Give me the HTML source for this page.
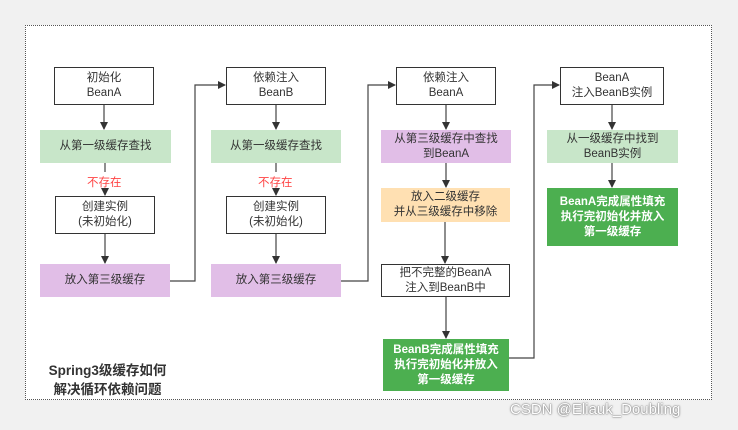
<!DOCTYPE html>
<html><head><meta charset="utf-8"><style>
body{margin:0;width:738px;height:430px;background:#f1f1f1;position:relative;overflow:hidden;font-family:"Liberation Sans","Noto Sans CJK SC",sans-serif;}
.panel{position:absolute;left:25px;top:25px;width:687px;height:375px;background:#fff;border:1px dotted #555;box-sizing:border-box;}
.b{position:absolute;box-sizing:border-box;display:flex;align-items:center;justify-content:center;text-align:center;font-size:11.5px;line-height:15px;color:#333;}
.w{background:#fff;border:1.3px solid #333;}
.g{background:#c8e6c9;}
.p{background:#e1bee7;}
.o{background:#ffe0b2;}
.d{background:#4caf50;color:#fff;font-weight:bold;}
.red{position:absolute;color:#f44;font-size:11.5px;}
svg{position:absolute;left:0;top:0;}
</style></head><body>
<div class="panel"></div>
<svg width="738" height="430">
<defs><marker id="a" markerWidth="8" markerHeight="8" refX="7" refY="4" orient="auto" markerUnits="userSpaceOnUse"><path d="M0,0L8,4L0,8z" fill="#333"/></marker></defs>
<g stroke="#444" stroke-width="1.2" fill="none">
<line x1="104" y1="104" x2="104" y2="129" marker-end="url(#a)"/>
<line x1="105" y1="163" x2="105" y2="172"/>
<line x1="105" y1="189" x2="105" y2="195" marker-end="url(#a)"/>
<line x1="105" y1="233" x2="105" y2="263" marker-end="url(#a)"/>
<polyline points="170,281 195,281 195,85 225,85" marker-end="url(#a)"/>
<line x1="276" y1="104" x2="276" y2="129" marker-end="url(#a)"/>
<line x1="276" y1="163" x2="276" y2="172"/>
<line x1="276" y1="189" x2="276" y2="195" marker-end="url(#a)"/>
<line x1="276" y1="233" x2="276" y2="263" marker-end="url(#a)"/>
<polyline points="341,281 368,281 368,85 395,85" marker-end="url(#a)"/>
<line x1="446" y1="104" x2="446" y2="129" marker-end="url(#a)"/>
<line x1="446" y1="163" x2="446" y2="187" marker-end="url(#a)"/>
<line x1="445" y1="222" x2="445" y2="263" marker-end="url(#a)"/>
<line x1="446" y1="297" x2="446" y2="338" marker-end="url(#a)"/>
<polyline points="508,358 534,358 534,85 559,85" marker-end="url(#a)"/>
<line x1="612" y1="104" x2="612" y2="129" marker-end="url(#a)"/>
<line x1="612" y1="163" x2="612" y2="187" marker-end="url(#a)"/>
</g></svg>
<div class="b w" style="left:54px;top:67px;width:100px;height:38px">初始化<br>BeanA</div>
<div class="b g" style="left:40px;top:130px;width:131px;height:33px">从第一级缓存查找</div>
<div class="red" style="left:87px;top:174px">不存在</div>
<div class="b w" style="left:55px;top:196px;width:100px;height:38px">创建实例<br>(未初始化)</div>
<div class="b p" style="left:40px;top:264px;width:130px;height:33px">放入第三级缓存</div>
<div class="b w" style="left:226px;top:67px;width:100px;height:38px">依赖注入<br>BeanB</div>
<div class="b g" style="left:211px;top:130px;width:130px;height:33px">从第一级缓存查找</div>
<div class="red" style="left:258px;top:174px">不存在</div>
<div class="b w" style="left:226px;top:196px;width:100px;height:38px">创建实例<br>(未初始化)</div>
<div class="b p" style="left:211px;top:264px;width:130px;height:33px">放入第三级缓存</div>
<div class="b w" style="left:396px;top:67px;width:100px;height:38px">依赖注入<br>BeanA</div>
<div class="b p" style="left:381px;top:130px;width:130px;height:33px">从第三级缓存中查找<br>到BeanA</div>
<div class="b o" style="left:381px;top:188px;width:129px;height:34px">放入二级缓存<br>并从三级缓存中移除</div>
<div class="b w" style="left:381px;top:264px;width:129px;height:33px">把不完整的BeanA<br>注入到BeanB中</div>
<div class="b d" style="left:383px;top:339px;width:126px;height:52px">BeanB完成属性填充<br>执行完初始化并放入<br>第一级缓存</div>
<div class="b w" style="left:560px;top:67px;width:104px;height:38px">BeanA<br>注入BeanB实例</div>
<div class="b g" style="left:547px;top:130px;width:131px;height:33px">从一级缓存中找到<br>BeanB实例</div>
<div class="b d" style="left:547px;top:188px;width:131px;height:58px">BeanA完成属性填充<br>执行完初始化并放入<br>第一级缓存</div>
<div style="position:absolute;left:40px;top:361px;width:135px;text-align:center;font-size:13.5px;font-weight:bold;line-height:19px;color:#333">Spring3级缓存如何<br>解决循环依赖问题</div>
<div style="position:absolute;left:510px;top:401px;font-size:15px;color:#fff;text-shadow:0 0 2px #777,0 0 1px #555">CSDN @Eliauk_Doubling</div>
</body></html>
